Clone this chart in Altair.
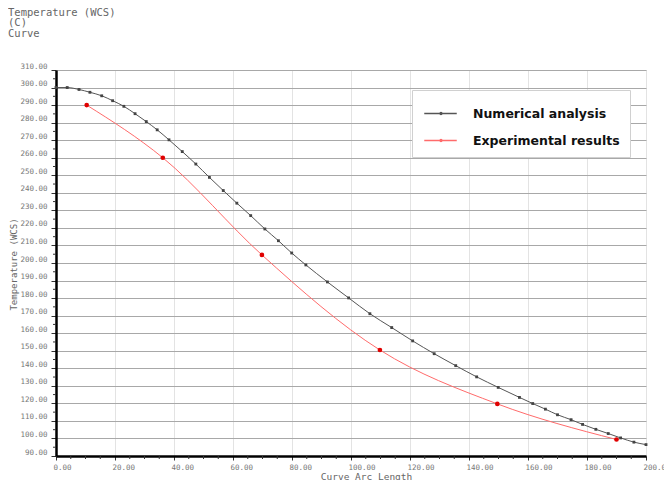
import altair as alt
import pandas as pd

# Numerical analysis (Curve Arc Length, Temperature)
num_x = [0, 3.8, 7.8, 11.5, 15.5, 19.2, 23, 26.8, 30.6, 34.3, 38.3, 42.8, 47.4, 52, 56.7,
         61.3, 66, 70.8, 75.4, 79.9, 84.7, 92, 99.2, 106.4, 113.8, 120.9, 128.2, 135.5,
         142.6, 149.9, 157.1, 161.6, 165.9, 170, 174.6, 178.5, 183, 187.2, 191.4, 195.9, 200]
num_y = [300, 300, 298.9, 297.3, 295.3, 292.5, 289.3, 285.1, 280.6, 275.9, 270.2, 263.5,
         256.4, 248.8, 241.3, 234.1, 227, 219.4, 212.7, 205.7, 198.9, 189.2, 180.1, 171.1,
         163.2, 155.6, 148.3, 141.5, 135.1, 129.1, 123.4, 119.9, 116.7, 113.5, 110.7, 108,
         105.2, 102.8, 100.3, 97.9, 96.5]

# Experimental results
exp_x = [10.4, 36.2, 69.8, 109.8, 149.6, 190]
exp_y = [290, 260, 204.6, 150.4, 119.7, 99.4]

series_names = ["Numerical analysis", "Experimental results"]
y_ticks = list(range(90, 311, 10))
x_ticks = list(range(0, 201, 20))
y_minor = list(range(95, 310, 10))
x_minor = [v for v in range(5, 200, 5) if v % 20 != 0]

W, H = 590, 386

df = pd.concat([
    pd.DataFrame({"x": num_x, "y": num_y, "series": series_names[0]}),
    pd.DataFrame({"x": exp_x, "y": exp_y, "series": series_names[1]}),
])

xscale = alt.Scale(domain=[0, 200], nice=False, zero=False)
yscale = alt.Scale(domain=[90, 310], nice=False, zero=False)
color_scale = alt.Scale(domain=series_names, range=["#555555", "#ff6b6b"])

lab_font = "DejaVu Sans Mono"
lab_color = "#777777"

xaxis = alt.Axis(values=x_ticks, format=".2f", title="Curve Arc Length",
                 titleFont=lab_font, titleFontSize=9.5, titleColor="#666666",
                 titleFontWeight="normal", titleX=310, titleAlign="center", titlePadding=1,
                 labelFont=lab_font, labelFontSize=7.5, labelColor=lab_color,
                 labelAlign="left", labelOffset=-3, labelPadding=3, labelOverlap=False,
                 labelFlush=False,
                 domainColor="black", domainWidth=2.5, tickColor="#333333",
                 tickSize=4, tickWidth=1, gridColor="#e3e3e3", gridWidth=1)
yaxis = alt.Axis(values=y_ticks, format=".2f", title="Temperature (WCS)",
                 titleFont=lab_font, titleFontSize=9, titleColor="#666666",
                 titleFontWeight="normal", titlePadding=1, titleY=194,
                 labelFont=lab_font, labelFontSize=7.5, labelColor=lab_color,
                 labelBaseline="bottom", labelPadding=4, labelOverlap=False,
                 labelFlush=False,
                 domainColor="black", domainWidth=2.5, tickColor="#333333",
                 tickSize=5, tickWidth=1, gridColor="#a8a8a8", gridWidth=1)

sym = "M-0.9,0H1.7M0.36,0a0.08,0.08 0 1,0 0.16,0a0.08,0.08 0 1,0 -0.16,0"

X = alt.X("x:Q", scale=xscale, axis=xaxis)
Y = alt.Y("y:Q", scale=yscale, axis=yaxis)

lines = alt.Chart(df).mark_line(strokeWidth=1, interpolate="monotone").encode(
    x=X, y=Y,
    color=alt.Color("series:N", scale=color_scale,
                    legend=alt.Legend(title=None, orient="none", legendX=356, legendY=20,
                                      fillColor="white", strokeColor="#d0d0d0",
                                      padding=10, rowPadding=7, labelOffset=24,
                                      labelFont="DejaVu Sans", labelFontSize=12.5,
                                      labelFontWeight="bold", labelColor="#111111",
                                      symbolType=sym, symbolSize=625,
                                      symbolStrokeWidth=1.3, labelLimit=300)),
    detail="series:N",
)

num_pts = alt.Chart(df[df.series == series_names[0]]).mark_point(
    shape="square", filled=True, size=8, color="#444444", opacity=1).encode(x=X, y=Y)

exp_pts = alt.Chart(df[df.series == series_names[1]]).mark_point(
    shape="circle", filled=True, size=22, color="#e00000", opacity=1).encode(x=X, y=Y)

ym = alt.Chart(pd.DataFrame({"y": y_minor})).mark_rule(color="#333333", strokeWidth=1).encode(
    y=Y, x=alt.value(-3), x2=alt.value(0))
xm = alt.Chart(pd.DataFrame({"x": x_minor})).mark_rule(color="#333333", strokeWidth=1).encode(
    x=X, y=alt.value(H), y2=alt.value(H + 3))

chart = alt.layer(lines, num_pts, exp_pts, ym, xm).properties(
    width=W, height=H,
    title=alt.Title(text=["Temperature (WCS)", "(C)", "Curve"], anchor="start", frame="group",
                    font=lab_font, fontSize=10.5, fontWeight="normal", color="#666666",
                    baseline="top", lineHeight=10.5, dx=-48, dy=-23, offset=0),
    autosize=alt.AutoSizeParams(type="none"),
    padding={"left": 48, "top": 62, "right": 18, "bottom": 24},
).configure_view(stroke=None).configure(background="white")

chart.save("out.html", embed_options={"renderer": "svg", "actions": False})
